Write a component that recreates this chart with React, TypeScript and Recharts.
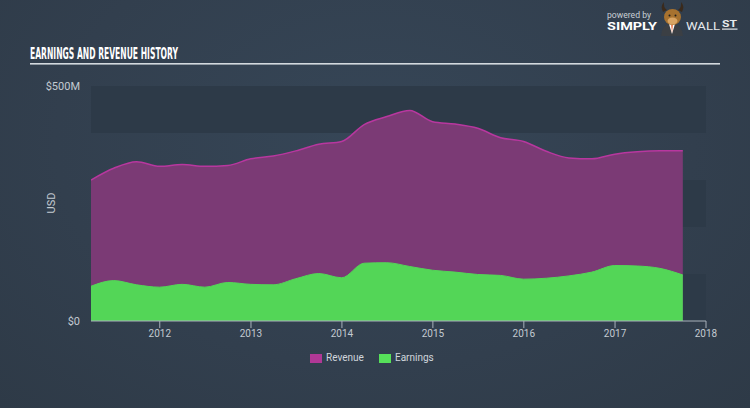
import React from 'react';
import { AreaChart, Area, XAxis, YAxis, CartesianGrid } from 'recharts';

const periods = [
  '2011-03-31', '2011-06-30', '2011-09-30', '2011-12-31',
  '2012-03-31', '2012-06-30', '2012-09-30', '2012-12-31',
  '2013-03-31', '2013-06-30', '2013-09-30', '2013-12-31',
  '2014-03-31', '2014-06-30', '2014-09-30', '2014-12-31',
  '2015-03-31', '2015-06-30', '2015-09-30', '2015-12-31',
  '2016-03-31', '2016-06-30', '2016-09-30', '2016-12-31',
  '2017-03-31', '2017-06-30', '2017-09-30',
];
// USD millions
const revenue = [300, 325, 339, 329, 333, 329, 331, 345, 351, 362, 376, 382, 418, 435, 448, 424, 419, 410, 390, 382, 361, 347, 345, 355, 360, 362, 362];
const earnings = [74, 86, 77, 72, 78, 72, 82, 78, 77, 90, 101, 92, 123, 124, 116, 108, 104, 99, 97, 89, 91, 96, 104, 118, 117, 112, 98];
const yearTicks = [2012, 2013, 2014, 2015, 2016, 2017, 2018];
const yTicks = [0, 100, 200, 300, 400, 500];
const axisEnd = '2018-01-01';

const seriesNames = ['Revenue', 'Earnings'];
const seriesColors = ['#b03896', '#56e05a'];

const ts = (s: string) => new Date(s + 'T00:00:00Z').getTime();
const yearTs = (y: number) => Date.UTC(y, 0, 1);

const data = periods.map((p, i) => ({ t: ts(p), revenue: revenue[i], earnings: earnings[i] }));

const tickStyle = { fill: '#c3cad1', fontSize: 11, fontFamily: 'Roboto, sans-serif' };

export default function App() {
  return (
    <div
      style={{
        position: 'relative',
        width: 750,
        height: 408,
        overflow: 'hidden',
        background: 'radial-gradient(ellipse at 50% 35%, #364657 0%, #323f4e 60%, #2e3a47 100%)',
      }}
    >
      <style>{'body{margin:0}'}</style>
      <AreaChart
        width={750}
        height={408}
        data={data}
        margin={{ top: 86, right: 44, bottom: 57, left: 0 }}
      >
        <CartesianGrid
          vertical={false}
          horizontal={true}
          stroke="none"
          horizontalFill={['#2d3a48', 'transparent']}
        />
        <XAxis
          type="number"
          dataKey="t"
          domain={[ts(periods[0]), ts(axisEnd)]}
          ticks={yearTicks.map(yearTs)}
          tickFormatter={(v: number) => String(new Date(v).getUTCFullYear())}
          tick={{ ...tickStyle, fontSize: 10 }}
          tickSize={7}
          tickMargin={2}
          stroke="#a9b2bb"
          tickLine={{ stroke: '#a9b2bb' }}
          axisLine={{ stroke: '#a9b2bb' }}
          allowDataOverflow
          height={30}
        />
        <YAxis
          type="number"
          domain={[0, 500]}
          ticks={yTicks}
          width={91}
          tickSize={0}
          tickMargin={11}
          axisLine={false}
          tickLine={false}
          tick={tickStyle}
          tickFormatter={(v: number) => (v === 0 ? '$0' : v === 500 ? '$500M' : '')}
        />
        <Area
          type="monotone"
          dataKey="revenue"
          stroke="#b8379f"
          strokeWidth={1.5}
          fill="#7b3a75"
          fillOpacity={1}
          isAnimationActive={false}
          dot={false}
          activeDot={false}
        />
        <Area
          type="monotone"
          dataKey="earnings"
          stroke="#53d657"
          strokeWidth={1}
          fill="#53d657"
          fillOpacity={1}
          isAnimationActive={false}
          dot={false}
          activeDot={false}
        />
      </AreaChart>

      <svg
        width={750}
        height={408}
        style={{ position: 'absolute', left: 0, top: 0, pointerEvents: 'none' }}
      >
        <text
          x={30}
          y={59}
          textLength={148}
          lengthAdjust="spacingAndGlyphs"
          fill="#ffffff"
          fontFamily="'Liberation Sans Narrow', 'DejaVu Sans Condensed', sans-serif"
          fontWeight="bold"
          fontSize={16.5}
        >
          EARNINGS AND REVENUE HISTORY
        </text>
        <rect x={30} y={63} width={690} height={1.6} fill="#d3d9de" />

        <text
          x={51}
          y={203}
          transform="rotate(-90 51 203)"
          textAnchor="middle"
          dominantBaseline="central"
          fill="#c3cad1"
          fontSize={11}
          fontFamily="Roboto, sans-serif"
        >
          USD
        </text>

        {/* logo */}
        <text x={607} y={18} fill="#c9d0d6" fontSize={9} fontFamily="Roboto, sans-serif" textLength={44} lengthAdjust="spacingAndGlyphs">
          powered by
        </text>
        <text x={607} y={29.5} fill="#ffffff" fontSize={10.5} fontWeight="bold" fontFamily="Roboto, sans-serif" textLength={50} lengthAdjust="spacingAndGlyphs">
          SIMPLY
        </text>
        <g>
          <path d="M663 12 q-3 -6 1 -10 q-1 5 3 8 z" fill="#3a2a1c" />
          <path d="M682 12 q3 -6 -1 -10 q1 5 -3 8 z" fill="#3a2a1c" />
          <path d="M661 36 q1 -12 11 -13 q10 1 11 13 z" fill="#3b3f44" />
          <path d="M669 24 l3 10 l3 -10 z" fill="#ffffff" />
          <path d="M671.2 25 l0.8 8 l0.8 -8 z" fill="#e8602c" />
          <ellipse cx={672.5} cy={17} rx={8.5} ry={8} fill="#a7722f" />
          <ellipse cx={672.5} cy={21} rx={5} ry={3.5} fill="#d9a463" />
          <circle cx={669.5} cy={15.5} r={1} fill="#1e1e1e" />
          <circle cx={675.5} cy={15.5} r={1} fill="#1e1e1e" />
        </g>
        <text x={686} y={29.5} fill="#e6eaee" fontSize={10.5} fontFamily="Roboto, sans-serif" textLength={34} lengthAdjust="spacingAndGlyphs">
          WALL
        </text>
        <text x={722} y={27} fill="#e6eaee" fontSize={8.5} fontWeight="bold" fontFamily="Roboto, sans-serif" textLength={15} lengthAdjust="spacingAndGlyphs">
          ST
        </text>
        <rect x={722} y={28.5} width={15.5} height={1.2} fill="#e6eaee" />
      </svg>

      {/* legend */}
      <div
        style={{
          position: 'absolute',
          left: 310,
          top: 350,
          display: 'flex',
          alignItems: 'center',
          fontFamily: 'Roboto, sans-serif',
          fontSize: 10,
          color: '#d0d6dc',
        }}
      >
        {seriesNames.map((n, i) => (
          <div key={n} style={{ display: 'flex', alignItems: 'center', position: 'absolute', left: i === 0 ? 0 : 69, top: 0, whiteSpace: 'nowrap' }}>
            <div style={{ width: 12, height: 9, background: seriesColors[i], marginRight: 4 }} />
            <span style={{ lineHeight: '16px' }}>{n}</span>
          </div>
        ))}
      </div>
    </div>
  );
}
